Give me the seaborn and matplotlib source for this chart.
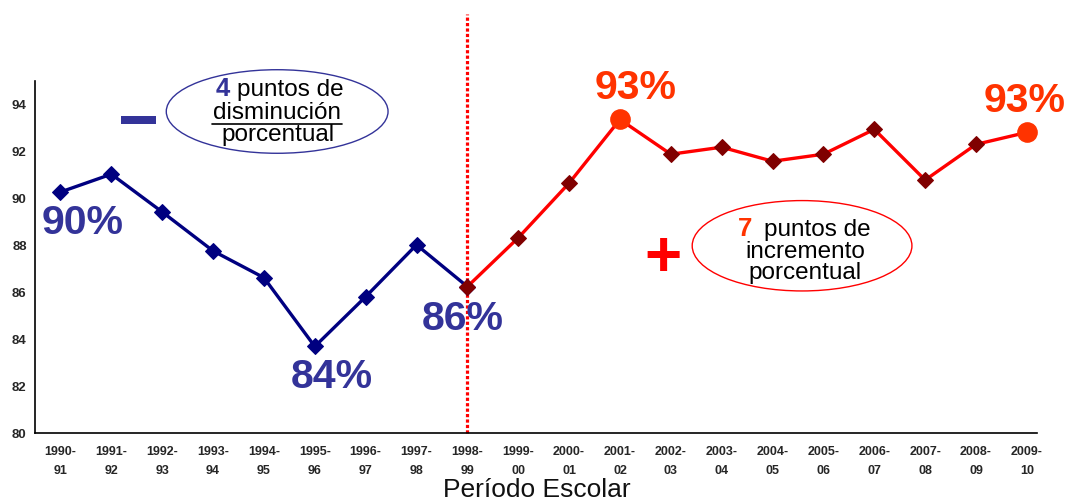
import matplotlib
matplotlib.use('Agg')
import matplotlib.pyplot as plt
import seaborn as sns
import numpy as np
from matplotlib.patches import Ellipse, Rectangle

periodos = ['1990-\n91', '1991-\n92', '1992-\n93', '1993-\n94', '1994-\n95', '1995-\n96',
            '1996-\n97', '1997-\n98', '1998-\n99', '1999-\n00', '2000-\n01', '2001-\n02',
            '2002-\n03', '2003-\n04', '2004-\n05', '2005-\n06', '2006-\n07', '2007-\n08',
            '2008-\n09', '2009-\n10']
# tramo de disminucion 1990-91 .. 1998-99
baja = [90.27, 91.03, 89.42, 87.76, 86.62, 83.69, 85.81, 88.02, 86.24]
# tramo de incremento 1998-99 .. 2009-10
alza = [86.24, 88.32, 90.65, 93.36, 91.88, 92.18, 91.58, 91.88, 92.94, 90.78, 92.30, 92.81]
destacados = ['2001-\n02', '2009-\n10']

AZUL = '#333399'
NAVY = '#000080'
ROJO = '#FF0000'
GUINDA = '#800000'
NARANJA = '#FF3300'

sns.set_style('white')
plt.rcParams['font.family'] = ['Liberation Sans', 'DejaVu Sans']

fig = plt.figure(figsize=(10.72, 5.03), dpi=100)
ax = fig.add_axes([0.0327, 0.139, 0.9347, 0.700])

pos = np.arange(len(periodos))
x1 = pos[:len(baja)]
x2 = pos[len(baja) - 1:]

sns.lineplot(x=x1, y=baja, ax=ax, color=NAVY, lw=2.4, marker='D', markersize=8.5,
             markerfacecolor=NAVY, markeredgecolor=NAVY)
sns.lineplot(x=x2, y=alza, ax=ax, color=ROJO, lw=2.4, marker='D', markersize=8.5,
             markerfacecolor=GUINDA, markeredgecolor=GUINDA)
idx = [periodos.index(p) for p in destacados]
sns.scatterplot(x=pos[idx], y=[alza[i - x2[0]] for i in idx], ax=ax, color=NARANJA,
                s=190, edgecolor=NARANJA, zorder=5)

# linea divisoria en 1998-99
ax.axvline(x2[0], ymin=0, ymax=1.19, clip_on=False, color=ROJO, lw=2.3,
           linestyle=(0, (1, 0.7)), zorder=1)

ax.set_xlim(-0.49, 19.2)
ax.set_ylim(80, 95)
ax.set_yticks(np.arange(80, 95, 2))
ax.set_xticks(pos)
ax.set_xticklabels(periodos, fontsize=9, fontweight='bold', linespacing=1.8)
ax.set_xticks(list(np.arange(-0.5, len(periodos) - 1, 1)) + [19.2], minor=True)
ax.tick_params(axis='x', which='major', length=0, pad=9)
ax.tick_params(axis='x', which='minor', length=4, direction='in', color='black')
ax.tick_params(axis='y', length=4, direction='out', color='black', labelsize=9.5, pad=2)
for t in ax.get_yticklabels():
    t.set_fontweight('bold')
for s in ['top', 'right']:
    ax.spines[s].set_visible(False)
for s in ['left', 'bottom']:
    ax.spines[s].set_color('black')
    ax.spines[s].set_linewidth(1.2)
ax.set_xlabel('Período Escolar', fontsize=19, color='#111111', va='center')
ax.xaxis.set_label_coords(0.501, -0.162)
ax.set_ylabel('')

# etiquetas de porcentaje
ax.text(0.43, 88.95, '90%', color=AZUL, fontsize=29.5, fontweight='bold', ha='center', va='center')
ax.text(5.34, 82.38, '84%', color=AZUL, fontsize=29.5, fontweight='bold', ha='center', va='center')
ax.text(7.91, 84.88, '86%', color=AZUL, fontsize=29.5, fontweight='bold', ha='center', va='center')
ax.text(11.30, 94.68, '93%', color=NARANJA, fontsize=29.5, fontweight='bold', ha='center', va='center', clip_on=False)
ax.text(18.96, 94.13, '93%', color=NARANJA, fontsize=29.5, fontweight='bold', ha='center', va='center', clip_on=False)

# globo de disminucion
ax.add_patch(Ellipse((4.26, 93.70), 4.36, 3.56, fill=False, edgecolor=AZUL, lw=1, clip_on=False))
ax.text(3.34, 94.34, '4', color=AZUL, fontsize=18.5, fontweight='bold', ha='right', va='baseline')
ax.text(3.47, 94.34, 'puntos de', color='black', fontsize=17.5, ha='left', va='baseline')
ax.text(4.26, 93.38, 'disminución', color='black', fontsize=17.5, ha='center', va='baseline')
ax.plot([2.98, 5.54], [93.17, 93.17], color='black', lw=1.2)
ax.text(4.28, 92.43, 'porcentual', color='black', fontsize=17.5, ha='center', va='baseline')
ax.add_patch(Rectangle((1.18, 93.15), 0.69, 0.34, color=AZUL, lw=0))

# globo de incremento
ax.add_patch(Ellipse((14.58, 87.98), 4.32, 3.85, fill=False, edgecolor=ROJO, lw=1, clip_on=False))
ax.text(13.60, 88.40, '7', color=NARANJA, fontsize=18.5, fontweight='bold', ha='right', va='baseline')
ax.text(13.84, 88.40, 'puntos de', color='black', fontsize=17.5, ha='left', va='baseline')
ax.text(14.64, 87.47, 'incremento', color='black', fontsize=17.5, ha='center', va='baseline')
ax.text(14.64, 86.58, 'porcentual', color='black', fontsize=17.5, ha='center', va='baseline')
ax.text(11.85, 87.4, '+', color=ROJO, fontsize=46, fontweight='bold', ha='center', va='center')

fig.savefig('out.png', dpi=100)
